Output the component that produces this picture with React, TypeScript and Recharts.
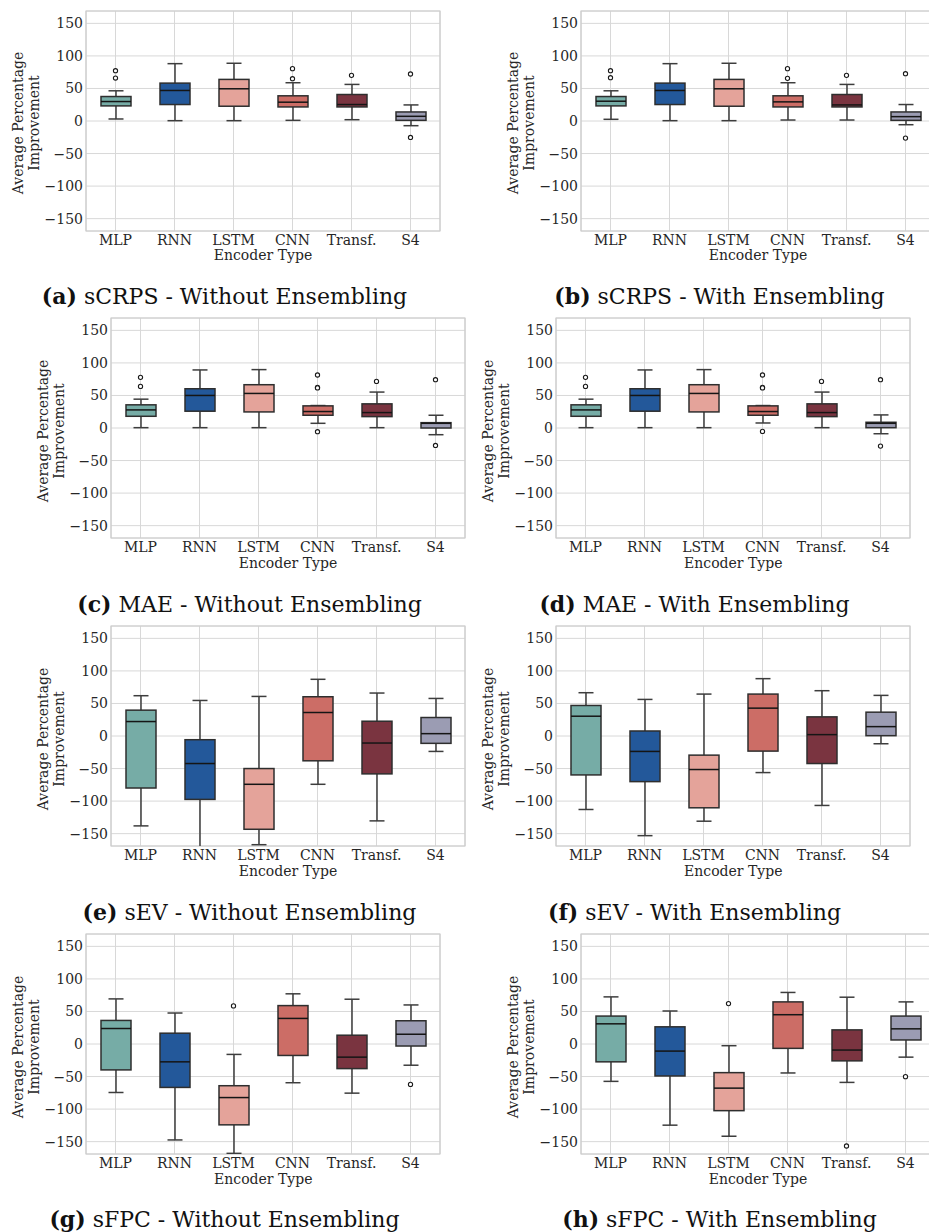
import React from 'react';
import { ComposedChart, Bar, Line, XAxis, YAxis, CartesianGrid, ReferenceArea } from 'recharts';

const categories = ['MLP', 'RNN', 'LSTM', 'CNN', 'Transf.', 'S4'];
const boxColors = ['#76aca6', '#23589a', '#e4a39a', '#cc6d66', '#7a3440', '#9b9cb3'];
const yTicks = [-150, -100, -50, 0, 50, 100, 150];
const yDomain: [number, number] = [-169, 169];

// each row: [whisker low, Q1, median, Q3, whisker high]
const statsA = [
  [3.1, 23.2, 29.9, 37.6, 46.4],
  [0.5, 25.3, 46.9, 58.2, 88.1],
  [0.5, 22.7, 49.5, 63.9, 88.7],
  [1, 21.6, 28.9, 38.7, 58.8],
  [2, 21.6, 25.3, 40.7, 56.2],
  [-7.2, 1, 7.2, 13.9, 24.7],
];
const outliersA = [[77.3, 66], [], [], [80.4, 65], [70.1], [72.2, -25.3]];

const statsB = [
  [2.6, 23.2, 30.4, 37.6, 46.4],
  [0.5, 25.3, 46.9, 58.2, 88.1],
  [0.5, 22.7, 49.5, 63.9, 88.7],
  [1.5, 21.6, 29.4, 38.7, 58.8],
  [1.5, 21.6, 24.7, 40.7, 56.2],
  [-5.7, 1, 6.7, 13.9, 25.3],
];
const outliersB = [[77.3, 66.5], [], [], [80.4, 65.5], [70.1], [72.7, -26.3]];

const statsC = [
  [0.5, 18, 27.8, 35.6, 44.3],
  [0.5, 25.8, 50, 60.3, 89.2],
  [0.5, 24.7, 53.1, 66.5, 89.7],
  [7.2, 19.6, 25.3, 34, 34.5],
  [0.5, 17.5, 23.7, 37.1, 55.2],
  [-10.3, 0, 7.2, 8.2, 19.6],
];
const outliersC = [[77.8, 63.9], [], [], [81.4, 62.4, 61.6, -5.7], [71.6], [74.2, -26.8]];

const statsD = [
  [0.5, 18, 27.8, 35.6, 44.3],
  [0.5, 25.8, 50, 60.3, 89.2],
  [0.5, 24.7, 53.1, 66.5, 89.7],
  [7.7, 19.6, 25.3, 34, 34.5],
  [0.5, 17.5, 23.7, 37.1, 55.2],
  [-8.8, 0.5, 7.2, 8.8, 20.1],
];
const outliersD = [[77.8, 63.9], [], [], [81.4, 62.4, 61.6, -5.2], [71.6], [74.2, -27.8]];

const statsE = [
  [-138.1, -79.9, 22.2, 39.7, 61.9],
  [-175, -97.4, -42.3, -5.7, 54.6],
  [-167, -143.3, -74.2, -50, 60.8],
  [-74.2, -38.1, 36.1, 60.3, 87.1],
  [-130.4, -58.2, -10.8, 22.7, 66],
  [-23.7, -11.3, 3.6, 28.4, 57.7],
];
const outliersE: number[][] = [[], [], [], [], [], []];

const statsF = [
  [-112.9, -59.8, 30.4, 46.9, 66.5],
  [-153.1, -70.1, -23.7, 7.7, 56.2],
  [-130.9, -110.3, -51.5, -29.4, 64.4],
  [-56.2, -23.2, 42.8, 64.4, 88.1],
  [-106.7, -42.3, 2.1, 29.4, 69.6],
  [-11.9, 0.5, 14.4, 36.6, 62.4],
];
const outliersF: number[][] = [[], [], [], [], [], []];

const statsG = [
  [-74.5, -39.8, 23.8, 36.2, 69.3],
  [-147.4, -66.7, -27.4, 16.6, 47.6],
  [-168, -124.2, -82.3, -64.1, -16],
  [-59.5, -17.6, 39.3, 59, 77.1],
  [-75.5, -37.8, -20.2, 13.5, 68.8],
  [-32.6, -3.1, 15, 35.7, 60],
];
const outliersG = [[], [], [58.5], [], [], [-62.1]];

const statsH = [
  [-57.4, -27.4, 31, 42.9, 72.4],
  [-124.7, -49.1, -10.9, 26.4, 50.7],
  [-141.7, -102.4, -67.8, -44, -2.6],
  [-44.5, -6.7, 45, 64.7, 79.2],
  [-59, -25.9, -9.3, 21.7, 71.9],
  [-20.2, 6.2, 23.3, 42.9, 64.7],
];
const outliersH = [[], [], [62.1], [], [-156.7], [-50.2]];

const SERIF = '"DejaVu Serif", serif';
const PLOT_W = 354;
const PLOT_H = 220;
const OUTLIER_KEYS = ['o1', 'o2', 'o3', 'o4'];

function buildData(stats: number[][], outliers: number[][]) {
  return categories.map((name, i) => {
    const [lo, q1, med, q3, hi] = stats[i];
    const row: any = { name, box: [q1, q3], lo, q1, med, q3, hi, color: boxColors[i] };
    OUTLIER_KEYS.forEach((k, j) => {
      row[k] = outliers[i][j] !== undefined ? outliers[i][j] : null;
    });
    return row;
  });
}

const BoxShape = (props: any) => {
  const { x, y, width, height, payload } = props;
  if (x == null || y == null || !payload) return null;
  const top = Math.min(y, y + height);
  const bot = Math.max(y, y + height);
  const { q1, q3, med, lo, hi, color } = payload;
  const k = (bot - top) / (q3 - q1);
  const py = (v: number) => top + (q3 - v) * k;
  const cx = x + width / 2;
  const cap = width / 4;
  const wc = '#3d3d3d';
  return (
    <g>
      <line x1={cx} x2={cx} y1={py(q3)} y2={py(hi)} stroke={wc} strokeWidth={1.5} />
      <line x1={cx} x2={cx} y1={py(q1)} y2={py(lo)} stroke={wc} strokeWidth={1.5} />
      <line x1={cx - cap} x2={cx + cap} y1={py(hi)} y2={py(hi)} stroke={wc} strokeWidth={1.5} />
      <line x1={cx - cap} x2={cx + cap} y1={py(lo)} y2={py(lo)} stroke={wc} strokeWidth={1.5} />
      <rect x={x} y={top} width={width} height={bot - top} fill={color} stroke="#2e2e2e" strokeWidth={1.5} />
      <line x1={x} x2={x + width} y1={py(med)} y2={py(med)} stroke="#151515" strokeWidth={1.5} />
    </g>
  );
};

const fmt = (v: number) => (v < 0 ? '\u2212' + Math.abs(v) : String(v));

type PanelProps = {
  left: number;
  top: number;
  capX: number;
  capY: number;
  letter: string;
  title: string;
  stats: number[][];
  outliers: number[][];
};

function Panel({ left, top, capX, capY, letter, title, stats, outliers }: PanelProps) {
  const data = buildData(stats, outliers);
  const chartLeft = left - 70;
  const chartTop = top - 5;
  return (
    <>
      <div style={{ position: 'absolute', left: chartLeft, top: chartTop }}>
        <ComposedChart
          width={70 + PLOT_W + 10}
          height={5 + PLOT_H + 50}
          data={data}
          margin={{ top: 5, right: 10, bottom: 20, left: 10 }}
        >
          <CartesianGrid stroke="#d8d8d8" strokeWidth={1} />
          <XAxis
            dataKey="name"
            interval={0}
            tickLine={false}
            axisLine={false}
            tickSize={0}
            tickMargin={4}
            height={30}
            tick={{ fill: '#262626', fontSize: 14, fontFamily: SERIF }}
          />
          <YAxis
            type="number"
            domain={yDomain}
            ticks={yTicks}
            interval={0}
            allowDataOverflow
            tickLine={false}
            axisLine={false}
            tickSize={0}
            tickMargin={3}
            width={60}
            tickFormatter={fmt}
            tick={{ fill: '#262626', fontSize: 14, fontFamily: SERIF }}
          />
          <ReferenceArea y1={yDomain[0]} y2={yDomain[1]} fill="none" fillOpacity={0} stroke="#cccccc" strokeWidth={1.2} />
          <Bar dataKey="box" barSize={30} shape={BoxShape} isAnimationActive={false} />
          {OUTLIER_KEYS.map((k) => (
            <Line
              key={k}
              dataKey={k}
              stroke="none"
              connectNulls={false}
              dot={{ r: 2.1, fill: '#ffffff', stroke: '#1a1a1a', strokeWidth: 1.1 }}
              activeDot={false}
              isAnimationActive={false}
            />
          ))}
        </ComposedChart>
      </div>
      <div
        style={{
          position: 'absolute',
          left: left - 60 - 110,
          top: top + 112.5 - 16,
          width: 220,
          height: 32,
          lineHeight: '16px',
          fontSize: 14,
          fontFamily: SERIF,
          color: '#262626',
          textAlign: 'center',
          transform: 'rotate(-90deg)',
          transformOrigin: '50% 50%',
          whiteSpace: 'nowrap',
        }}
      >
        <div>Average Percentage</div>
        <div>Improvement</div>
      </div>
      <div
        style={{
          position: 'absolute',
          left: left + PLOT_W / 2 - 100,
          top: top + 244.5 - 9,
          width: 200,
          lineHeight: '18px',
          fontSize: 14,
          fontFamily: SERIF,
          color: '#262626',
          textAlign: 'center',
          whiteSpace: 'nowrap',
        }}
      >
        Encoder Type
      </div>
      <div
        style={{
          position: 'absolute',
          left: capX - 240,
          top: capY - 14,
          width: 480,
          lineHeight: '28px',
          fontSize: 22,
          fontFamily: SERIF,
          color: '#111111',
          textAlign: 'center',
          whiteSpace: 'nowrap',
        }}
      >
        <span style={{ fontWeight: 'bold' }}>({letter})</span> {title}
      </div>
    </>
  );
}

export default function App() {
  return (
    <div
      style={{
        position: 'absolute',
        left: 0,
        top: 0,
        width: 929,
        height: 1232,
        overflow: 'hidden',
        background: '#ffffff',
      }}
    >
      <Panel left={86} top={10.5} capX={224.5} capY={296} letter="a" title="sCRPS - Without Ensembling" stats={statsA} outliers={outliersA} />
      <Panel left={581} top={10.5} capX={719.5} capY={296} letter="b" title="sCRPS - With Ensembling" stats={statsB} outliers={outliersB} />
      <Panel left={111} top={318.3} capX={249.5} capY={604} letter="c" title="MAE - Without Ensembling" stats={statsC} outliers={outliersC} />
      <Panel left={556.3} top={318.3} capX={694.5} capY={604} letter="d" title="MAE - With Ensembling" stats={statsD} outliers={outliersD} />
      <Panel left={111} top={626.3} capX={249.5} capY={912} letter="e" title="sEV - Without Ensembling" stats={statsE} outliers={outliersE} />
      <Panel left={556.3} top={626.3} capX={694.5} capY={912} letter="f" title="sEV - With Ensembling" stats={statsF} outliers={outliersF} />
      <Panel left={86.3} top={934.3} capX={224.5} capY={1219} letter="g" title="sFPC - Without Ensembling" stats={statsG} outliers={outliersG} />
      <Panel left={581} top={934.3} capX={719.5} capY={1219} letter="h" title="sFPC - With Ensembling" stats={statsH} outliers={outliersH} />
    </div>
  );
}
